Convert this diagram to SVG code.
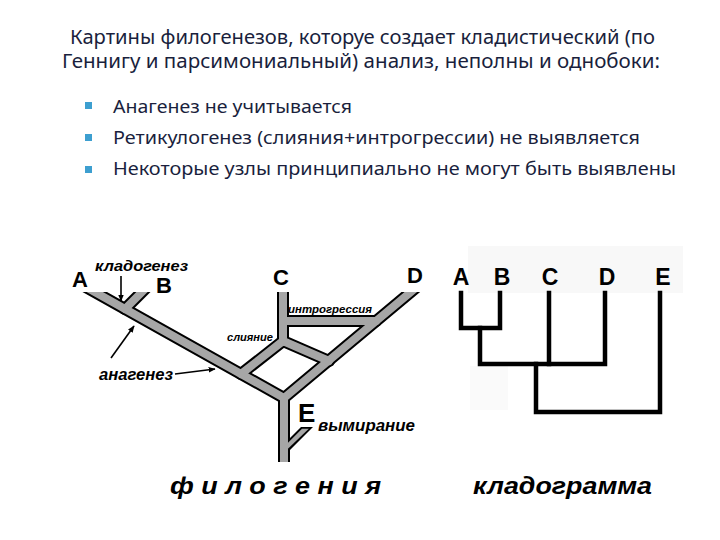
<svg xmlns="http://www.w3.org/2000/svg" width="720" height="540" viewBox="0 0 720 540">
<defs>
<style>
.title{font-family:"Noto Sans","DejaVu Sans",sans-serif;font-size:19px;fill:#1a1f3d}
.bul{font-family:"Noto Sans","DejaVu Sans",sans-serif;font-size:18px;fill:#1a1f3d}
.sq{fill:#3d9fd0}
.lbl{font-family:"Liberation Sans",Arial,sans-serif;font-weight:bold;fill:#000}
.it{font-family:"Liberation Sans",Arial,sans-serif;font-weight:bold;font-style:italic;fill:#000}
.bk{stroke:#000;stroke-width:12;stroke-linecap:round;fill:none}
.gy{stroke:#a6a6a6;stroke-width:8;stroke-linecap:round;fill:none}
.cl{stroke:#000;stroke-width:4.5;fill:none;stroke-linejoin:miter;stroke-linecap:square}
.ar{stroke:#000;stroke-width:1.6;fill:none}
</style>
<marker id="ah" viewBox="0 0 10 10" refX="9" refY="5" markerWidth="7" markerHeight="7" orient="auto" markerUnits="userSpaceOnUse">
<path d="M0,1 L10,5 L0,9 Z" fill="#000"/>
</marker>
<clipPath id="cp"><rect x="0" y="292" width="720" height="170"/></clipPath>
</defs>
<rect width="720" height="540" fill="#fff"/>

<g id="title">
<text class="title" x="70" y="44" textLength="585" lengthAdjust="spacingAndGlyphs">Картины филогенезов, которуе создает кладистический (по</text>
<text class="title" x="62" y="68" textLength="598" lengthAdjust="spacingAndGlyphs">Геннигу и парсимониальный)  анализ, неполны и однобоки:</text>
</g>

<g id="bullets">
<rect class="sq" x="85" y="102" width="7" height="7"/>
<text class="bul" x="113" y="113" textLength="239" lengthAdjust="spacingAndGlyphs">Анагенез не учитывается</text>
<rect class="sq" x="85" y="134" width="7" height="7"/>
<text class="bul" x="113" y="144" textLength="527" lengthAdjust="spacingAndGlyphs">Ретикулогенез (слияния+интрогрессии) не выявляется</text>
<rect class="sq" x="85" y="166" width="7" height="7"/>
<text class="bul" x="113" y="175" textLength="563" lengthAdjust="spacingAndGlyphs">Некоторые узлы принципиально не могут быть выявлены</text>
</g>

<g id="cladogram-bg">
<rect x="468" y="246" width="215" height="47" fill="#f8f8f8"/>
<rect x="470" y="366" width="38" height="44" fill="#fafafa"/>
</g>

<g id="phylogeny" clip-path="url(#cp)">
<g id="outline">
<line class="bk" x1="84" y1="286" x2="284" y2="398"/>
<line class="bk" x1="148" y1="286" x2="125" y2="309"/>
<line class="bk" x1="418" y1="286" x2="284" y2="398"/>
<line class="bk" x1="283" y1="286" x2="283" y2="342"/>
<line class="bk" x1="284" y1="398" x2="284" y2="475"/>
<line class="bk" x1="283" y1="321" x2="376" y2="321"/>
<line class="bk" x1="283" y1="341" x2="241" y2="374"/>
<line class="bk" x1="283" y1="341" x2="329" y2="361"/>
<polygon points="284,444 301,427 313,427 284,456" fill="#000"/>
</g>
<g id="fill">
<line class="gy" x1="84" y1="286" x2="284" y2="398"/>
<line class="gy" x1="148" y1="286" x2="125" y2="309"/>
<line class="gy" x1="418" y1="286" x2="284" y2="398"/>
<line class="gy" x1="283" y1="286" x2="283" y2="342"/>
<line class="gy" x1="284" y1="398" x2="284" y2="475"/>
<line class="gy" x1="283" y1="321" x2="376" y2="321"/>
<line class="gy" x1="283" y1="341" x2="241" y2="374"/>
<line class="gy" x1="283" y1="341" x2="329" y2="361"/>
<polygon points="284,446.8 302,428.8 308.8,428.8 284,452.6" fill="#a6a6a6"/>
</g>
</g>

<g id="phylo-labels">
<text class="lbl" x="72" y="287" font-size="22">A</text>
<text class="lbl" x="156" y="293" font-size="22">B</text>
<text class="lbl" x="273" y="285" font-size="22">C</text>
<text class="lbl" x="407" y="283" font-size="22">D</text>
<text class="lbl" x="298" y="422" font-size="26">E</text>
<text class="it" x="95" y="271" font-size="15" textLength="93" lengthAdjust="spacingAndGlyphs">кладогенез</text>
<text class="it" x="99" y="380" font-size="17" textLength="74" lengthAdjust="spacingAndGlyphs">анагенез</text>
<text class="it" x="318" y="431" font-size="16" textLength="97" lengthAdjust="spacingAndGlyphs">вымирание</text>
<text class="it" x="227" y="341" font-size="11" textLength="46" lengthAdjust="spacingAndGlyphs">слияние</text>
<text class="it" x="288" y="313" font-size="11.5" textLength="84" lengthAdjust="spacingAndGlyphs">интрогрессия</text>
</g>

<g id="arrows">
<line class="ar" x1="121" y1="276" x2="121" y2="301" marker-end="url(#ah)"/>
<line class="ar" x1="111" y1="358" x2="134" y2="326" marker-end="url(#ah)"/>
<line class="ar" x1="175" y1="374" x2="215" y2="369" marker-end="url(#ah)"/>
</g>

<g id="cladogram">
<polyline class="cl" points="461,293 461,328 500,328 500,293"/>
<polyline class="cl" points="480,328 480,364 605,364 605,293"/>
<line class="cl" x1="549" y1="293" x2="549" y2="364"/>
<polyline class="cl" points="536,364 536,412 660,412 660,293"/>
</g>

<g id="clado-labels">
<text class="lbl" x="461" y="285" font-size="23" text-anchor="middle">A</text>
<text class="lbl" x="502" y="285" font-size="23" text-anchor="middle">B</text>
<text class="lbl" x="550" y="285" font-size="23" text-anchor="middle">C</text>
<text class="lbl" x="607" y="285" font-size="23" text-anchor="middle">D</text>
<text class="lbl" x="663" y="285" font-size="23" text-anchor="middle">E</text>
</g>

<g id="captions">
<text class="it" x="170" y="494" font-size="24" textLength="211" lengthAdjust="spacingAndGlyphs">ф и л о г е н и я</text>
<text class="it" x="473" y="494" font-size="24" textLength="179" lengthAdjust="spacingAndGlyphs">кладограмма</text>
</g>
</svg>
